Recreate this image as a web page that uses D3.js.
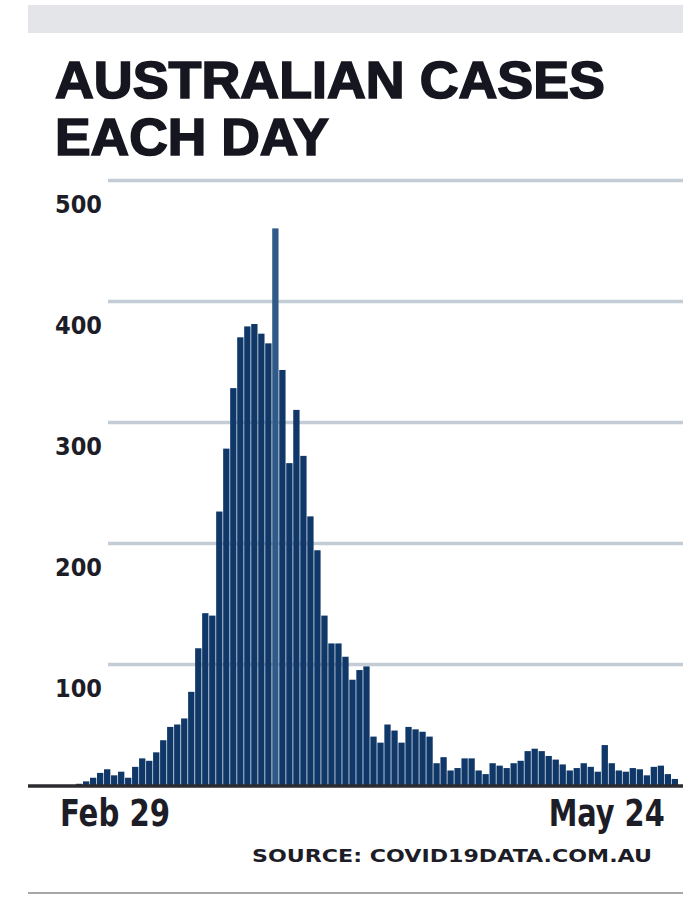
<!DOCTYPE html>
<html>
<head>
<meta charset="utf-8">
<script src="https://cdn.jsdelivr.net/npm/d3@7"></script>
<style>
  body { margin: 0; background: #fff; }
  svg { display: block; }
  .cond { font-family: "Liberation Sans Narrow", "DejaVu Sans Condensed", "Roboto", sans-serif; font-stretch: condensed; }
</style>
</head>
<body>
<div id="chart"></div>
<script>
// daily new cases, Feb 29 -> May 24
const startDay = "2020-02-29";
const endDay = "2020-05-24";
const cases = [
  1, 3, 6, 10, 13, 8, 11, 6, 15, 22,
  20, 27, 37, 48, 50, 55, 77, 113, 142, 140,
  226, 278, 328, 370, 379, 381, 373, 365, 460, 343,
  266, 310, 272, 222, 194, 140, 117, 117, 106, 87,
  95, 98, 40, 35, 50, 45, 35, 48, 46, 44,
  40, 18, 23, 12, 14, 22, 22, 12, 9, 18,
  16, 14, 18, 20, 28, 30, 28, 24, 21, 17,
  12, 14, 18, 15, 11, 33, 18, 12, 11, 14,
  13, 8, 15, 16, 9, 5
];
const yTicks = [100, 200, 300, 400, 500];
const xLabels = ["Feb 29", "May 24"];
const titleLines = ["AUSTRALIAN CASES", "EACH DAY"];
const source = "SOURCE: COVID19DATA.COM.AU";

const W = 694, H = 898;
const parse = d3.utcParse("%Y-%m-%d");
const days = d3.utcDays(parse(startDay), d3.utcDay.offset(parse(endDay), 1));
const data = days.map((d, i) => ({ day: d, value: cases[i] }));

const svg = d3.select("#chart").append("svg")
    .attr("width", W)
    .attr("height", H);

// grey band on top
svg.append("rect")
    .attr("x", 28).attr("y", 5)
    .attr("width", 655).attr("height", 28)
    .attr("fill", "#e3e5e8");

// title (stroke makes it look like the heavy condensed face)
svg.selectAll(".title")
    .data(titleLines)
    .enter().append("text")
    .attr("class", "title")
    .attr("x", 55)
    .attr("y", (d, i) => 98 + i * 57)
    .attr("textLength", (d, i) => i === 0 ? 550 : 274)
    .attr("lengthAdjust", "spacingAndGlyphs")
    .attr("font-family", "'Liberation Sans', Arial, sans-serif")
    .attr("font-size", 51)
    .attr("font-weight", 700)
    .attr("fill", "#15161f")
    .attr("stroke", "#15161f")
    .attr("stroke-width", 1.6)
    .text(d => d);

const x = d3.scaleBand()
    .domain(days)
    .range([76, 678])
    .paddingInner(0.1);

const y = d3.scaleLinear()
    .domain([0, 500])
    .range([785, 180]);

// gridlines + labels
const yAxis = svg.append("g")
    .attr("transform", "translate(108,0)")
    .call(d3.axisLeft(y).tickValues(yTicks).tickSize(-575).tickFormat(d3.format("d")));
yAxis.select(".domain").remove();
yAxis.selectAll(".tick line")
    .attr("stroke", "#c4cdd6")
    .attr("stroke-width", 3.5);
yAxis.selectAll(".tick text")
    .attr("class", "cond")
    .attr("x", -53)
    .attr("dy", 32)
    .attr("text-anchor", "start")
    .attr("font-size", 25)
    .attr("font-weight", 700)
    .attr("fill", "#1d1d28");

// bars
svg.append("g")
    .selectAll("rect")
    .data(data)
    .enter().append("rect")
    .attr("x", d => x(d.day))
    .attr("y", d => y(d.value))
    .attr("width", x.bandwidth())
    .attr("height", d => y(0) - y(d.value))
    .attr("fill", d => d.value > 450 ? "#2f5a88" : "#0f3768");

// baseline
svg.append("line")
    .attr("x1", 28).attr("x2", 683)
    .attr("y1", y(0) + 1).attr("y2", y(0) + 1)
    .attr("stroke", "#2b2b30")
    .attr("stroke-width", 3.5);

// date labels
svg.append("text")
    .attr("class", "cond")
    .attr("x", x(days[0]) - 16)
    .attr("y", 826)
    .attr("font-size", 37)
    .attr("font-weight", 700)
    .attr("textLength", 110)
    .attr("lengthAdjust", "spacingAndGlyphs")
    .attr("fill", "#1d1d28")
    .text(xLabels[0]);

svg.append("text")
    .attr("class", "cond")
    .attr("x", x(days[days.length - 1]) - 7)
    .attr("y", 826)
    .attr("text-anchor", "end")
    .attr("font-size", 37)
    .attr("font-weight", 700)
    .attr("textLength", 116)
    .attr("lengthAdjust", "spacingAndGlyphs")
    .attr("fill", "#1d1d28")
    .text(xLabels[1]);

// source
svg.append("text")
    .attr("x", 252)
    .attr("y", 862)
    .attr("font-family", "'DejaVu Sans', sans-serif")
    .attr("font-size", 18)
    .attr("font-weight", 700)
    .attr("textLength", 400)
    .attr("lengthAdjust", "spacingAndGlyphs")
    .attr("fill", "#1d1d28")
    .text(source);

// bottom rule
svg.append("line")
    .attr("x1", 28).attr("x2", 683)
    .attr("y1", 893).attr("y2", 893)
    .attr("stroke", "#8a8a8a")
    .attr("stroke-width", 1.5);
</script>
</body>
</html>
